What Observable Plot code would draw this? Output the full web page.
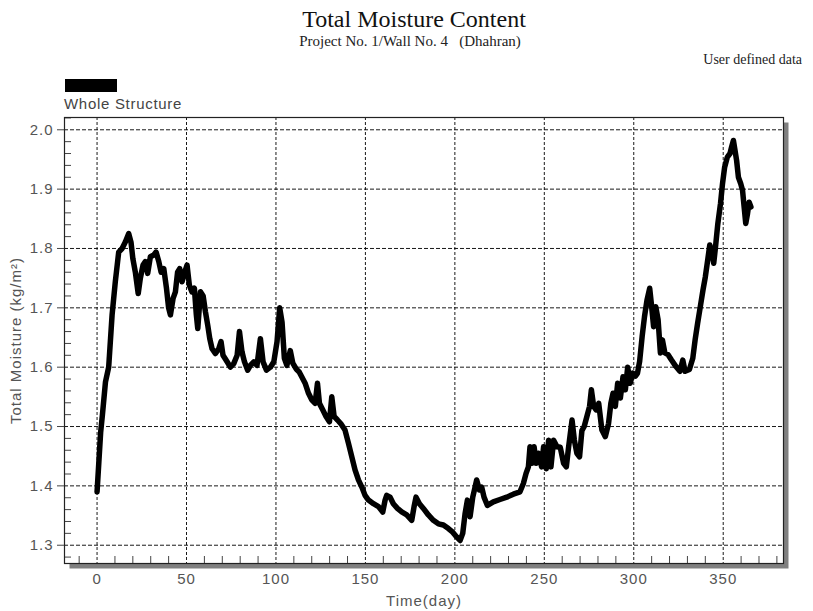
<!DOCTYPE html>
<html>
<head>
<meta charset="utf-8">
<script src="https://cdn.jsdelivr.net/npm/d3@7"></script>
<script src="https://cdn.jsdelivr.net/npm/@observablehq/plot@0.6"></script>
<style>
  html, body { margin: 0; padding: 0; background: #fff; }
  #wrap { position: relative; width: 813px; height: 611px; overflow: hidden; }
  #head { position: relative; width: 813px; height: 112px; }
  .t { position: absolute; white-space: nowrap; }
  #title { left: 0; width: 828px; text-align: center; top: 6.6px; font: 24px/24px "Liberation Serif", "Times New Roman", serif; color: #111; }
  #subtitle { left: 0; width: 820px; text-align: center; top: 34.1px; font: 15px/15px "Liberation Serif", "Times New Roman", serif; color: #222; }
  #source { right: 11px; top: 52.6px; font: 14px/14px "Liberation Serif", "Times New Roman", serif; color: #222; }
  #swatch { left: 65px; top: 79px; width: 52px; height: 13px; background: #000; }
  #legend { left: 64px; top: 95.6px; font: 15px/15px "Liberation Sans", Arial, sans-serif; letter-spacing: 0.7px; color: #444; }
  #chart svg text { letter-spacing: 1px; }
</style>
</head>
<body>
<div id="wrap">
  <div id="head">
    <div class="t" id="title">Total Moisture Content</div>
    <div class="t" id="subtitle">Project No. 1/Wall No. 4&nbsp;&nbsp;&nbsp;(Dhahran)</div>
    <div class="t" id="source">User defined data</div>
    <div class="t" id="swatch"></div>
    <div class="t" id="legend">Whole Structure</div>
  </div>
  <div id="chart"></div>
</div>
<script>
// Simulated total moisture content of the whole wall over one year
const days = [
  0, 1, 2, 3, 4.7, 6.5, 8.4, 10.2, 12.1, 14, 15.8, 17.7, 19, 20, 21.4, 23, 24.2, 25.7, 27, 28.3,
  29.8, 31.7, 33, 34.5, 35.8, 37.3, 38.8, 40, 41, 42.5, 43.8, 45, 46.2, 47.5, 49, 50.3, 51.6, 53, 54.4, 55.5,
  56.3, 57.8, 59.3, 60.6, 61.9, 63, 64.3, 66.1, 68, 69.3, 70.4, 72.7, 74.5, 76.4, 78.3, 79.6, 81, 82.4, 84.2, 85.7,
  87.6, 89.4, 91.3, 92.8, 94.7, 96.9, 98.8, 100.6, 102.1, 103.4, 104.7, 106.1, 108, 109.4, 111.3, 113, 114.4, 116.3, 118.2, 120,
  121.9, 123.2, 124.3, 126.2, 128, 129.9, 131.2, 132.5, 134.4, 136.2, 138.6, 140.5, 142.4, 144.2, 146.1, 148, 149.8, 151.7, 154.5, 157.3,
  159.7, 161, 161.9, 163.8, 165.6, 167.9, 170.3, 173.1, 175.9, 177.2, 178.3, 180.2, 182.4, 185.2, 188, 190.8, 193.6, 196.4, 198.8, 201,
  202.9, 204.4, 205.7, 207, 208.5, 210, 211.3, 212.2, 213.7, 215, 216.3, 218.2, 221.5, 225.2, 229, 232.7, 236.4, 238.3, 239.8, 241.1,
  242, 243, 244.3, 245.4, 246.7, 248.5, 249.6, 251.1, 252.4, 253.7, 255.2, 257.1, 258.9, 260.8, 262.3, 263.6, 265.5, 266.8, 268.2, 269.7,
  271, 272.3, 273.8, 275.3, 276.3, 277.6, 279, 280.4, 282.2, 284.1, 285.9, 287.2, 288.4, 289.7, 291, 292.5, 294, 295.3, 296.6, 298,
  299.5, 301, 302.1, 303.3, 304.7, 306, 307.4, 308.9, 310, 311.1, 312.3, 313.6, 314.9, 316, 317.4, 319.2, 321.1, 323.6, 325.8, 327.4,
  328.7, 331.1, 333, 334.3, 335.7, 337.2, 338.7, 340, 341.3, 342.5, 343.8, 344.7, 345.7, 347, 348.5, 349.6, 350.8, 352.3, 353.8, 354.7,
  355.7, 356.6, 357.5, 358.5, 359.8, 360.8, 361.7, 362.6, 363.6, 364.5, 365.5
];
const moisture = [
  1.39, 1.44, 1.49, 1.52, 1.575, 1.60, 1.688, 1.744, 1.794, 1.80, 1.811, 1.825, 1.81, 1.783, 1.76, 1.724, 1.75, 1.772, 1.778, 1.758,
  1.786, 1.789, 1.794, 1.778, 1.76, 1.766, 1.733, 1.70, 1.688, 1.716, 1.727, 1.76, 1.766, 1.744, 1.76, 1.772, 1.738, 1.727, 1.733, 1.688,
  1.665, 1.727, 1.72, 1.693, 1.67, 1.648, 1.631, 1.623, 1.631, 1.643, 1.62, 1.609, 1.60, 1.606, 1.62, 1.66, 1.626, 1.609, 1.595, 1.603,
  1.609, 1.603, 1.648, 1.609, 1.595, 1.60, 1.609, 1.643, 1.70, 1.676, 1.615, 1.603, 1.628, 1.607, 1.597, 1.592, 1.584, 1.573, 1.556, 1.545,
  1.539, 1.573, 1.539, 1.528, 1.517, 1.508, 1.55, 1.517, 1.511, 1.505, 1.494, 1.472, 1.449, 1.427, 1.41, 1.398, 1.384, 1.376, 1.37, 1.365,
  1.356, 1.376, 1.384, 1.381, 1.37, 1.362, 1.356, 1.351, 1.342, 1.365, 1.381, 1.37, 1.362, 1.351, 1.342, 1.336, 1.334, 1.328, 1.322, 1.314,
  1.308, 1.32, 1.353, 1.376, 1.348, 1.381, 1.398, 1.41, 1.393, 1.398, 1.381, 1.367, 1.373, 1.377, 1.381, 1.386, 1.39, 1.404, 1.421, 1.432,
  1.466, 1.438, 1.466, 1.438, 1.455, 1.432, 1.466, 1.429, 1.477, 1.432, 1.477, 1.466, 1.465, 1.438, 1.432, 1.466, 1.511, 1.477, 1.455, 1.449,
  1.493, 1.50, 1.517, 1.534, 1.562, 1.534, 1.528, 1.539, 1.494, 1.483, 1.505, 1.539, 1.556, 1.534, 1.573, 1.548, 1.584, 1.562, 1.60, 1.573,
  1.59, 1.585, 1.59, 1.61, 1.652, 1.685, 1.713, 1.733, 1.702, 1.668, 1.702, 1.68, 1.624, 1.646, 1.624, 1.621, 1.612, 1.601, 1.593, 1.612,
  1.593, 1.596, 1.615, 1.646, 1.674, 1.702, 1.73, 1.752, 1.78, 1.806, 1.792, 1.775, 1.803, 1.842, 1.876, 1.909, 1.937, 1.954, 1.96, 1.971,
  1.982, 1.965, 1.948, 1.92, 1.909, 1.898, 1.87, 1.842, 1.859, 1.878, 1.87
];

// Axis ticks
const xTicks = [0, 50, 100, 150, 200, 250, 300, 350];
const xMinor = d3.range(-10, 381, 10).filter(d => d % 50 !== 0);
const yTicks = [1.3, 1.4, 1.5, 1.6, 1.7, 1.8, 1.9, 2.0];
const yMinor = d3.range(64, 102, 1).map(i => i * 0.02).filter(v => Math.abs(v * 10 - Math.round(v * 10)) > 1e-6);

const series = days.map((d, i) => ({day: d, value: moisture[i]}));

const W = 813, H = 499;
const mL = 64, mR = 30, mT = 5, mB = 48;
const frameW = W - mL - mR, frameH = H - mT - mB;

const chart = Plot.plot({
  width: W,
  height: H,
  marginLeft: mL,
  marginRight: mR,
  marginTop: mT,
  marginBottom: mB,
  style: {fontFamily: '"Liberation Sans", Arial, sans-serif', fontSize: "15px", color: "#555", background: "white", overflow: "visible"},
  x: {domain: [-18.2, 383.7]},
  y: {domain: [1.2692, 2.0207]},
  marks: [
    // drop shadow and white plotting area
    Plot.frame({fill: "#808080", dx: 5, dy: 5}),
    Plot.frame({fill: "white"}),
    Plot.gridX(xTicks, {stroke: "#000", strokeOpacity: 0.9, strokeDasharray: "3,2"}),
    Plot.gridY(yTicks, {stroke: "#000", strokeOpacity: 0.9, strokeDasharray: "4,2"}),
    Plot.line(series, {x: "day", y: "value", stroke: "#000", strokeWidth: 5.5, strokeLinejoin: "round", strokeLinecap: "round"}),
    // inward minor ticks
    Plot.tickX(xMinor, {x: d => d, stroke: "#444", insetTop: frameH - 7}),
    Plot.tickY(yMinor, {y: d => d, stroke: "#444", insetRight: frameW - 7}),
    Plot.frame({stroke: "#222", strokeWidth: 1.2}),
    Plot.axisX(xTicks, {tickSize: 0, tickPadding: 10, label: "Time(day)", labelArrow: "none", labelAnchor: "center", labelOffset: 42, color: "#555"}),
    Plot.axisY(yTicks, {tickSize: 7, tickPadding: 4, tickFormat: d3.format(".1f"), stroke: "#444", label: "Total Moisture (kg/m²)", labelArrow: "none", labelAnchor: "center", labelOffset: 54})
  ]
});
document.getElementById("chart").appendChild(chart);
</script>
</body>
</html>
